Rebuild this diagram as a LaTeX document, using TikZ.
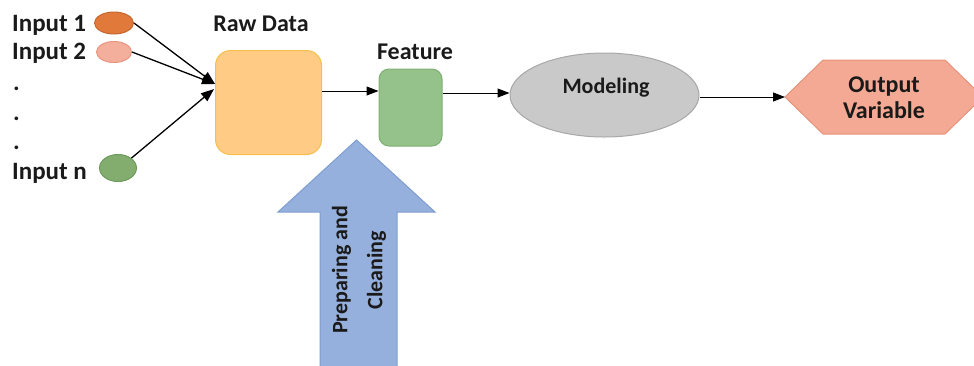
\documentclass[tikz,border=0pt]{standalone}
\usepackage{fontspec}
\setmainfont{Carlito}
\usetikzlibrary{arrows.meta,shapes.geometric}
\definecolor{txt}{HTML}{1A1A1A}
\definecolor{inAfill}{HTML}{E1793A}\definecolor{inAdraw}{HTML}{C4672F}
\definecolor{inBfill}{HTML}{F4AE9C}\definecolor{inBdraw}{HTML}{E8957F}
\definecolor{inNfill}{HTML}{82AD6E}\definecolor{inNdraw}{HTML}{6F9B5D}
\definecolor{rawfill}{HTML}{FFCB85}\definecolor{rawdraw}{HTML}{F5C04C}
\definecolor{featfill}{HTML}{95C18A}\definecolor{featdraw}{HTML}{80AF74}
\definecolor{modfill}{HTML}{C9C9C9}\definecolor{moddraw}{HTML}{A8A8A8}
\definecolor{outfill}{HTML}{F3A993}\definecolor{outdraw}{HTML}{E6937B}
\definecolor{bluefill}{HTML}{95B0DD}\definecolor{bluedraw}{HTML}{7F9DCF}
\begin{document}
\begin{tikzpicture}[x=1pt,y=-1pt,
  lbl/.style={font=\fontsize{25}{29}\selectfont\bfseries, text=txt, inner sep=0pt},
  slbl/.style={font=\fontsize{24}{28}\selectfont\bfseries, text=txt, inner sep=0pt},
  inpt/.style={ellipse, draw, line width=1pt, inner sep=0pt},
  conn/.style={draw=black, line width=1.3pt, -{Triangle[length=13pt,width=10pt]}},
  conn2/.style={draw=black, line width=1pt, -{Triangle[length=12pt,width=9pt]}}]
\useasboundingbox (0,0) rectangle (974,365);
% input labels
\node[lbl, anchor=base west] (t1) at (12,31) {Input 1};
\node[lbl, anchor=base west] (t2) at (12,59) {Input 2};
\node[lbl, anchor=base west] (d1) at (13,90) {.};
\node[lbl, anchor=base west] (d2) at (13,120) {.};
\node[lbl, anchor=base west] (d3) at (13,149) {.};
\node[lbl, anchor=base west] (tn) at (12,179) {Input n};
% input ellipses
\node[inpt, fill=inAfill, draw=inAdraw, minimum width=39pt, minimum height=22pt] (in1) at (114,23) {};
\node[inpt, fill=inBfill, draw=inBdraw, minimum width=35pt, minimum height=21pt] (in2) at (114,52) {};
\node[inpt, fill=inNfill, draw=inNdraw, minimum width=37pt, minimum height=27pt] (inn) at (118,168) {};
% raw data
\node[draw=rawdraw, fill=rawfill, line width=1pt, rounded corners=15pt, minimum width=106pt, minimum height=104pt, inner sep=0pt] (raw) at (268.5,102.5) {};
\node[slbl, anchor=base] (rawl) at (261,31) {Raw Data};
\coordinate (rin1) at (215,84);
\coordinate (rin2) at (214,89);
\draw[conn] (in1.east) -- (rin1);
\draw[conn] (in2.east) -- (rin1);
\draw[conn] (inn.north east) -- (rin2);
% feature
\node[draw=featdraw, fill=featfill, line width=1pt, rounded corners=10pt, minimum width=63pt, minimum height=77pt, inner sep=0pt] (feat) at (410.5,107.5) {};
\node[slbl, anchor=base] (featl) at (415,59) {Feature};
\coordinate (rf) at (0,91);
\draw[conn2] (raw.east |- rf) -- (feat.west |- rf);
% modeling
\node[ellipse, draw=moddraw, fill=modfill, line width=1pt, minimum width=189pt, minimum height=84pt, inner sep=0pt] (mod) at (604.5,95) {};
\node[inner sep=0pt, text=txt, font=\fontsize{22}{26}\selectfont\bfseries, anchor=base] (modl) at (606,93) {Modeling};
\coordinate (fm) at (0,93);
\draw[conn2] (feat.east |- fm) -- (mod.west |- fm);
% output hexagon
\begin{scope}
\clip (0,0) rectangle (974,365);
\draw[fill=outfill, draw=outdraw, line width=1pt] (785,97) -- (823,60) -- (945,60) -- (983,97) -- (945,134) -- (823,134) -- cycle;
\end{scope}
\node[align=center, text=txt, inner sep=0pt, font=\fontsize{24}{26}\selectfont\bfseries] (outl) at (884,98) {Output\\Variable};
\coordinate (outw) at (785,97);
\draw[conn2] (mod.east |- outw) -- (outw);
% big arrow
\draw[fill=bluefill, draw=bluedraw, line width=1pt] (320,366) -- (320,212) -- (278,212) -- (356.5,140) -- (435,212) -- (397,212) -- (397,366);
\node[rotate=90, align=center, text=txt, inner sep=0pt, font=\fontsize{22}{35}\selectfont\bfseries] (prep) at (359,270) {Preparing and\\Cleaning};
\end{tikzpicture}
\end{document}
